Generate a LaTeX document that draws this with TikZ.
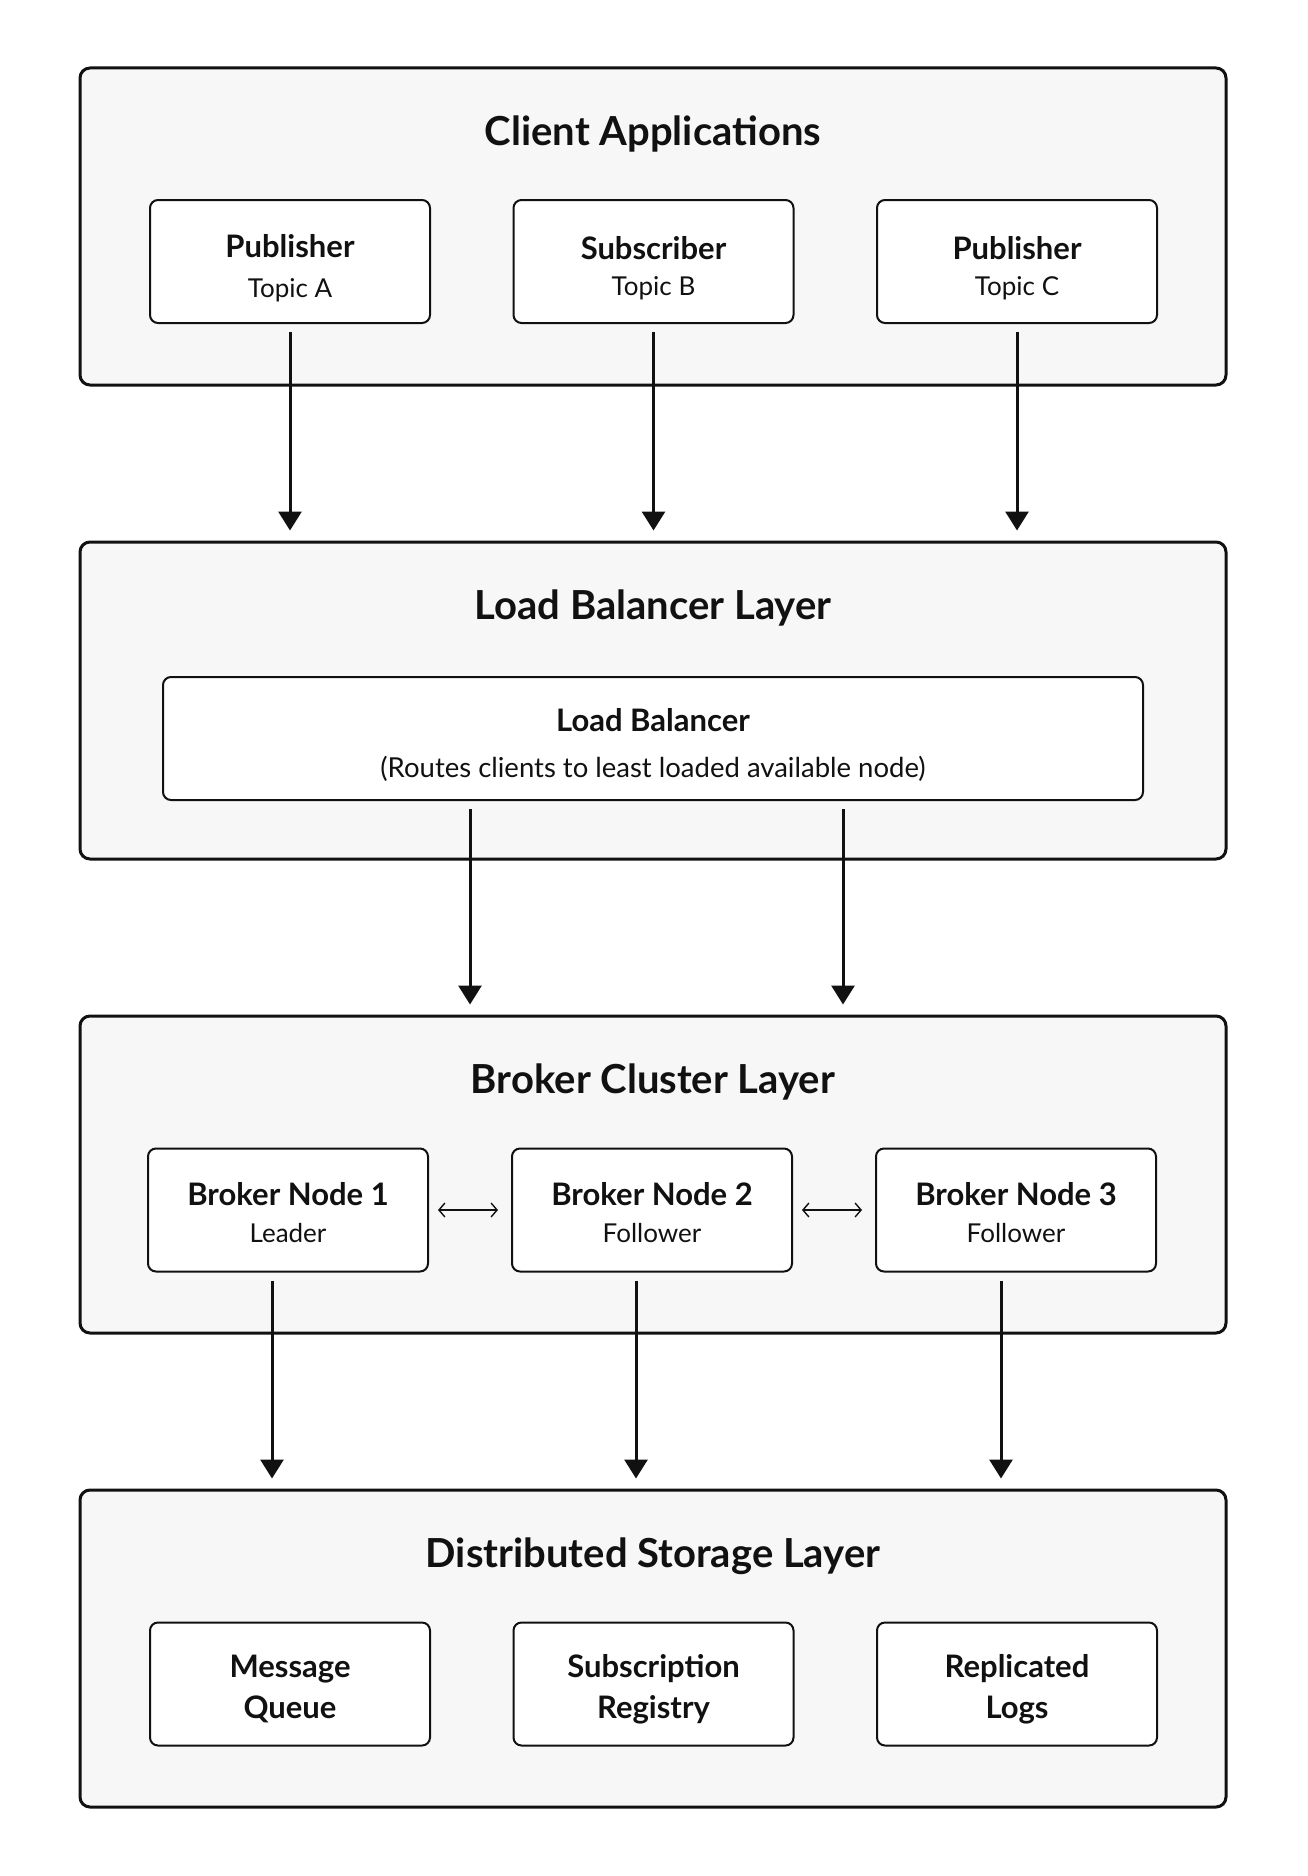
\documentclass[tikz,border=0pt]{standalone}
\usepackage{fontspec}
\setmainfont{Lato}
\usetikzlibrary{arrows.meta}
\definecolor{layerfill}{HTML}{F7F7F7}
\definecolor{ink}{HTML}{111111}
\tikzset{
  layer/.style={draw=ink, line width=3pt, rounded corners=10pt, fill=layerfill,
    minimum width=1146pt, minimum height=317pt, inner sep=0pt},
  ltitle/.style={font=\fontsize{40}{48}\selectfont\bfseries, text=ink, inner sep=0pt},
  cbox/.style={draw=ink, line width=2pt, rounded corners=8pt, fill=white,
    minimum width=280pt, minimum height=123pt, inner sep=0pt},
  ctext/.style={inner sep=0pt, align=center, text=ink, font=\fontsize{26}{40}\selectfont},
  flow/.style={draw=ink, line width=3pt, -{Triangle[length=19pt,width=23pt]},
    shorten <=8pt, shorten >=10pt},
  sync/.style={draw=ink, line width=1.4pt, {Straight Barb[length=6pt,width=14pt]}-{Straight Barb[length=6pt,width=14pt]}},
}
\newcommand{\myhd}[1]{{\fontsize{31}{40}\selectfont\bfseries #1}}
\begin{document}
\begin{tikzpicture}[x=1pt,y=-1pt]
\useasboundingbox[fill=white] (0,0) rectangle (1307,1876);

% Layer 1
\node[layer] (l1) at (653,226.5) {};
\node[ltitle] (t1) at (653,134) {Client Applications};
\node[cbox] (pa) at (290,261.5) {};
\node[cbox] (sb) at (653.5,261.5) {};
\node[cbox] (pc) at (1017,261.5) {};
\node[ctext] (pa-t) at ([yshift=-7pt]pa.center) {\myhd{Publisher}\\Topic A};
\node[ctext, font=\fontsize{26}{36}\selectfont] (sb-t) at ([yshift=-7pt]sb.center) {\myhd{Subscriber}\\Topic B};
\node[ctext, font=\fontsize{26}{36}\selectfont] (pc-t) at ([yshift=-7pt]pc.center) {\myhd{Publisher}\\Topic C};

% Layer 2
\node[layer] (l2) at (653,700.5) {};
\node[ltitle] (t2) at (653,608) {Load Balancer Layer};
\node[cbox, minimum width=980pt] (lb) at (653,738.5) {};
\node[ctext, font=\fontsize{27.5}{46}\selectfont] (lb-t) at ([yshift=-6pt]lb.center) {\myhd{Load Balancer}\\(Routes clients to least loaded available node)};

% Layer 3
\node[layer] (l3) at (653,1174.5) {};
\node[ltitle] (t3) at (653,1082) {Broker Cluster Layer};
\node[cbox] (b1) at (288,1210) {};
\node[cbox] (b2) at (652,1210) {};
\node[cbox] (b3) at (1016,1210) {};
\node[ctext, font=\fontsize{26}{37}\selectfont] (b1-t) at ([yshift=-3pt]b1.center) {\myhd{Broker Node 1}\\Leader};
\node[ctext, font=\fontsize{26}{37}\selectfont] (b2-t) at ([yshift=-3pt]b2.center) {\myhd{Broker Node 2}\\Follower};
\node[ctext, font=\fontsize{26}{37}\selectfont] (b3-t) at ([yshift=-3pt]b3.center) {\myhd{Broker Node 3}\\Follower};

% Layer 4
\node[layer] (l4) at (653,1648.5) {};
\node[ltitle] (t4) at (653,1556) {Distributed Storage Layer};
\node[cbox] (s1) at (290,1684) {};
\node[cbox] (s2) at (653.5,1684) {};
\node[cbox] (s3) at (1017,1684) {};
\node[ctext, font=\fontsize{31}{41}\selectfont\bfseries] (s1-t) at ([yshift=-5pt]s1.center) {Message\\Queue};
\node[ctext, font=\fontsize{31}{41}\selectfont\bfseries] (s2-t) at ([yshift=-5pt]s2.center) {Subscription\\Registry};
\node[ctext, font=\fontsize{31}{41}\selectfont\bfseries] (s3-t) at ([yshift=-5pt]s3.center) {Replicated\\Logs};

% Arrows layer 1 -> 2
\draw[flow] (pa.south) -- (pa.south |- l2.north);
\draw[flow] (sb.south) -- (sb.south |- l2.north);
\draw[flow] (pc.south) -- (pc.south |- l2.north);

% Arrows layer 2 -> 3
\coordinate (lbl) at ([xshift=-183pt]lb.south);
\coordinate (lbr) at ([xshift=190pt]lb.south);
\draw[flow] (lbl) -- (lbl |- l3.north);
\draw[flow] (lbr) -- (lbr |- l3.north);

% Arrows layer 3 -> 4
\coordinate (b1o) at ([xshift=-16pt]b1.south);
\coordinate (b2o) at ([xshift=-16pt]b2.south);
\coordinate (b3o) at ([xshift=-15pt]b3.south);
\draw[flow] (b1o) -- (b1o |- l4.north);
\draw[flow] (b2o) -- (b2o |- l4.north);
\draw[flow] (b3o) -- (b3o |- l4.north);

% Sync arrows
\draw[sync] ([xshift=9pt]b1.east) -- ([xshift=-13pt]b2.west);
\draw[sync] ([xshift=9pt]b2.east) -- ([xshift=-13pt]b3.west);
\end{tikzpicture}
\end{document}
